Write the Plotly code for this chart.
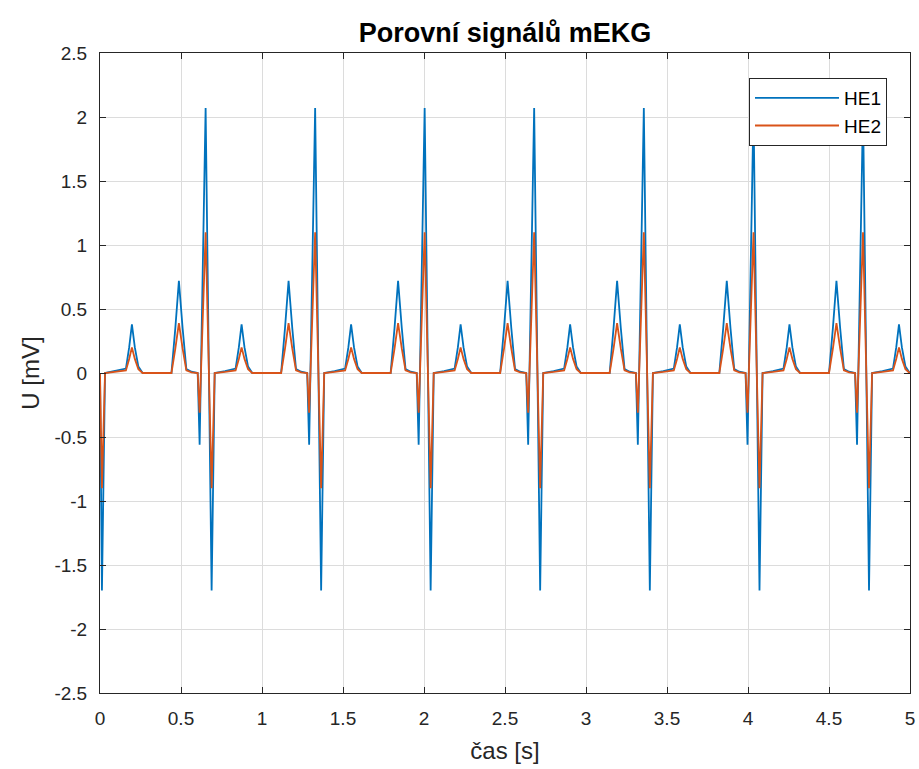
import plotly.graph_objects as go

# --- data ---
# times of the R peaks of each beat [s]
r_times = [-0.025, 0.652, 1.328, 2.004, 2.680, 3.357, 4.034, 4.710]
# sample offsets of one beat relative to its R peak [s]
beat_offsets = [-0.049, -0.037, 0.0, 0.037, 0.056, 0.12, 0.185, 0.205, 0.222,
                0.24, 0.262, 0.288, 0.466, 0.49, 0.512, 0.535, 0.558, 0.59]
# beat sample values [mV]
beat_he1 = [0.0, -0.56, 2.07, -1.70, 0.0, 0.015, 0.035, 0.20, 0.38,
            0.20, 0.05, 0.0, 0.0, 0.35, 0.72, 0.35, 0.03, 0.01]
beat_he2 = [0.0, -0.31, 1.10, -0.90, 0.0, 0.008, 0.02, 0.11, 0.20,
            0.11, 0.03, 0.0, 0.0, 0.19, 0.39, 0.19, 0.02, 0.005]
t_end = 5.0

x_ticks = [0, 0.5, 1, 1.5, 2, 2.5, 3, 3.5, 4, 4.5, 5]
x_ticktext = ["0", "0.5", "1", "1.5", "2", "2.5", "3", "3.5", "4", "4.5", "5"]
y_ticks = [-2.5, -2, -1.5, -1, -0.5, 0, 0.5, 1, 1.5, 2, 2.5]
y_ticktext = ["-2.5", "-2", "-1.5", "-1", "-0.5", "0", "0.5", "1", "1.5", "2", "2.5"]

# build the series from the beat samples
t, y1, y2 = [0.0], [0.0], [0.0]
for r in r_times:
    for off, a, b in zip(beat_offsets, beat_he1, beat_he2):
        tt = r + off
        if 0 < tt <= t_end:
            t.append(tt); y1.append(a); y2.append(b)
t.append(t_end); y1.append(0.0); y2.append(0.0)

font = "Liberation Sans, Arial, Helvetica, sans-serif"
axcol = "#262626"

fig = go.Figure()
fig.add_trace(go.Scatter(x=t, y=y1, mode="lines", name="HE1",
                         line=dict(color="#0072BD", width=1.8)))
fig.add_trace(go.Scatter(x=t, y=y2, mode="lines", name="HE2",
                         line=dict(color="#D95319", width=1.8)))

axis_common = dict(showgrid=True, gridcolor="#dcdcdc", gridwidth=1,
                   showline=True, linecolor=axcol, linewidth=1, mirror="allticks",
                   ticks="inside", ticklen=6, tickcolor=axcol,
                   tickfont=dict(family=font, size=19, color=axcol),
                   zeroline=False)

fig.update_layout(
    width=919, height=769,
    margin=dict(l=100, r=9, t=53, b=76, autoexpand=False),
    paper_bgcolor="white", plot_bgcolor="white",
    font=dict(family=font, color=axcol),
    title=dict(text="<b>Porovní signálů mEKG</b>", x=0.5, xref="paper",
               xanchor="center",
               y=1 - 33 / 769, yref="container", yanchor="middle",
               font=dict(family=font, size=27, color="black")),
    xaxis=dict(range=[0, 5], tickvals=x_ticks, ticktext=x_ticktext,
               ticklabelstandoff=8, automargin=False,
               title=dict(text="čas [s]", font=dict(family=font, size=24, color=axcol), standoff=14),
               **axis_common),
    yaxis=dict(range=[-2.5, 2.5], tickvals=y_ticks, ticktext=y_ticktext,
               ticklabelstandoff=8, automargin=False,
               title=dict(text="U [mV]", font=dict(family=font, size=24, color=axcol), standoff=8),
               **axis_common),
    legend=dict(x=0.9716, xanchor="right", y=0.961, yanchor="top",
                bgcolor="white", bordercolor=axcol, borderwidth=1,
                font=dict(family=font, size=19, color="black"),
                itemwidth=84, tracegroupgap=0),
    showlegend=True,
)

fig.write_html("out.html")
